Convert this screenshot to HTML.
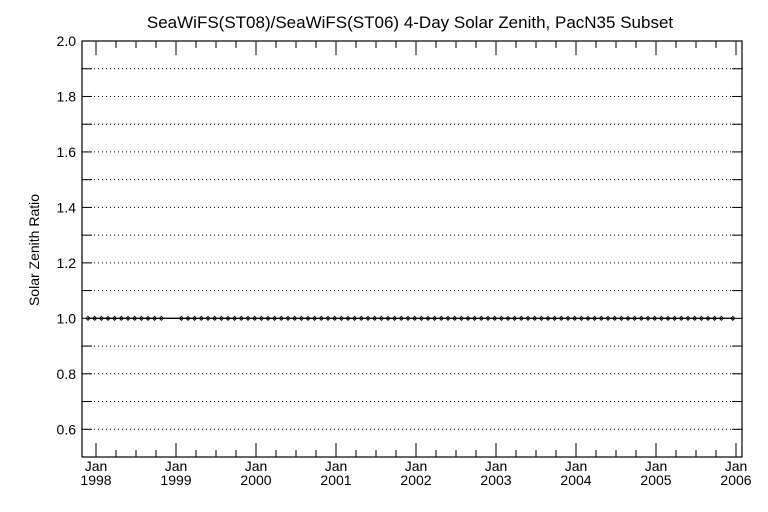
<!DOCTYPE html>
<html><head><meta charset="utf-8"><style>
body{margin:0;background:#fff;}
svg{display:block;font-family:"Liberation Sans",sans-serif;}
</style></head><body>
<svg id="chart" width="768" height="512" viewBox="0 0 768 512">
<rect width="768" height="512" fill="#fff"/>
<text x="410" y="28" font-size="17" text-anchor="middle" fill="#000">SeaWiFS(ST08)/SeaWiFS(ST06) 4-Day Solar Zenith, PacN35 Subset</text>
<text transform="translate(39,250) rotate(-90)" font-size="14" text-anchor="middle" fill="#000">Solar Zenith Ratio</text>
<g id="grid"></g><g id="axes"></g><g id="series"></g>
</svg>
<script>
const yTicks=[0.6,0.8,1.0,1.2,1.4,1.6,1.8,2.0];
const yTickLabels=["0.6","0.8","1.0","1.2","1.4","1.6","1.8","2.0"];
const xYears=[1998,1999,2000,2001,2002,2003,2004,2005,2006];
const xYearLabels=["1998","1999","2000","2001","2002","2003","2004","2005","2006"];
// decimal-year times of data points
const times=[];
for(let y=1998;y<2006;y++){for(let m=0;m<12;m++){const t=y+m/12-0.1;if(t>1998.85&&t<1999.0)continue;times.push(+t.toFixed(3));}}
times.push(2005.96);
const ratios=times.map(()=>1.0);

const L=82,R=742,T=41,B=457,ymin=0.5,ymax=2.0;
const xs=t=>96+80*(t-1998);
const ys=v=>B-(v-ymin)/(ymax-ymin)*(B-T);
const NS="http://www.w3.org/2000/svg";
function mk(tag,attrs,parent){const e=document.createElementNS(NS,tag);for(const k in attrs)e.setAttribute(k,attrs[k]);parent.appendChild(e);return e;}
const grid=document.getElementById('grid'),axes=document.getElementById('axes'),ser=document.getElementById('series');
for(let k=6;k<=19;k++){const v=k/10;
 const g=mk('line',{x1:L,x2:R,y1:ys(v),y2:ys(v),stroke:'#000','stroke-width':1,'stroke-dasharray':'1,3'},grid);
 
 
}
yTicks.forEach((v,i)=>{
 const t=mk('text',{x:L-6,y:ys(v)+5,'font-size':14,'text-anchor':'end',fill:'#000'},axes);
 t.textContent=yTickLabels[i];
 
 
});
for(let k=6;k<20;k++){const y=ys(k/10);
 [[L,L+10],[R-10,R]].forEach(p=>mk('line',{x1:p[0],x2:p[1],y1:y,y2:y,stroke:'#000'},axes));}
const frame=mk('rect',{x:L,y:T,width:R-L,height:B-T,fill:'none',stroke:'#000','stroke-width':1.2},axes);


for(let t=1998;t<=2006.01;t+=0.25){const x=xs(t);const major=Math.abs(t-Math.round(t))<0.01;const h=major?14:7;
 mk('line',{x1:x,x2:x,y1:B,y2:B-h,stroke:'#000'},axes);
 mk('line',{x1:x,x2:x,y1:T,y2:T+h,stroke:'#000'},axes);}
xYears.forEach((yr,i)=>{const x=xs(yr);
 const a=mk('text',{x:x,y:B+14,'font-size':14,'text-anchor':'middle',fill:'#000'},axes);
 a.textContent='Jan';
 
 
 const b=mk('text',{x:x,y:B+28,'font-size':14,'text-anchor':'middle',fill:'#000'},axes);
 b.textContent=xYearLabels[i];
 
 
});
const line=mk('polyline',{points:times.map((t,i)=>xs(t)+','+ys(ratios[i])).join(' '),fill:'none',stroke:'#000','stroke-width':1.3},ser);


times.forEach((t,i)=>{const x=xs(t),y=ys(ratios[i]);
 const p=mk('path',{d:`M${x-2},${y}L${x},${y-2}L${x+2},${y}L${x},${y+2}Z`,fill:'none',stroke:'#000','stroke-width':0.9},ser);
 
 
});
</script>
</body></html>
